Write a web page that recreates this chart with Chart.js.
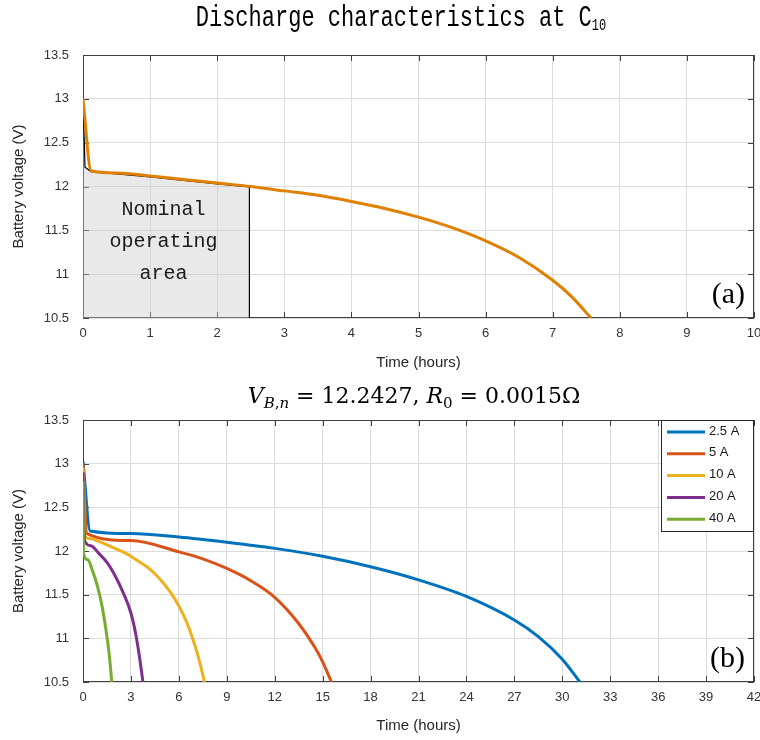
<!DOCTYPE html>
<html>
<head>
<meta charset="utf-8">
<script src="https://cdn.jsdelivr.net/npm/chart.js@4.4.1/dist/chart.umd.min.js"></script>
<style>
  body { margin: 0; background: #fff; }
  #wrap { position: relative; width: 760px; height: 740px; overflow: hidden; background: #fff; }
  canvas { position: absolute; left: 0; }
  #chartA { top: 0; }
  #chartB { top: 375px; }
  .title-a {
    position: absolute; left: 401px; top: 3px;
    transform: translateX(-50%) scaleY(1.3); transform-origin: 50% 0;
    font-family: "Liberation Mono", monospace; font-size: 22px; white-space: nowrap; color: #000;
  }
  .title-a sub { font-size: 12px; vertical-align: -3px; }
  .title-b {
    position: absolute; left: 414px; top: 383px; transform: translateX(-50%);
    font-family: "DejaVu Serif", serif; font-size: 22px; white-space: nowrap; color: #000;
  }
  .title-b sub { font-size: 15px; vertical-align: -5px; }
</style>
</head>
<body>
<div id="wrap">
  <canvas id="chartA" width="760" height="375"></canvas>
  <canvas id="chartB" width="760" height="365"></canvas>
  <div class="title-a">Discharge characteristics at C<sub>10</sub></div>
  <div class="title-b"><i>V</i><sub><i>B</i>,<i>n</i></sub> = 12.2427, <i>R</i><sub>0</sub> = 0.0015Ω</div>
</div>
<script>
// (a) courbe de décharge à C10
const aTime = [0, 0.12, 0.5, 1, 1.5, 2, 2.5, 3, 3.5, 4, 4.5, 5, 5.5, 6, 6.5, 7, 7.3, 7.57];
const aVolt = [13.0, 12.18, 12.155, 12.12, 12.08, 12.04, 12.0, 11.95, 11.9, 11.83, 11.75, 11.65, 11.53, 11.38, 11.19, 10.93, 10.73, 10.5];

// zone nominale (contour noir)
const nominalTime = [0, 0.03, 0.12, 0.5, 1, 1.5, 2, 2.48, 2.48];
const nominalVolt = [13.0, 12.22, 12.17, 12.145, 12.11, 12.07, 12.03, 11.995, 10.5];

// (b) plusieurs courants
const seriesLabels = ["2.5 A", "5 A", "10 A", "20 A", "40 A"];
const seriesColors = ["#0072BD", "#D95319", "#EDB120", "#7E2F8E", "#77AC30"];

const t25 = [0, 0.45, 3, 6, 9, 12, 15, 18, 21, 24, 27, 28.5, 30, 31.1];
const v25 = [13.03, 12.23, 12.2, 12.16, 12.1, 12.03, 11.94, 11.82, 11.67, 11.48, 11.21, 11.02, 10.76, 10.5];

const t5 = [0, 0.25, 3, 6, 7.5, 9, 10.5, 12, 13.5, 14.5, 15, 15.55];
const v5 = [13.0, 12.2, 12.12, 11.99, 11.91, 11.8, 11.66, 11.47, 11.17, 10.9, 10.73, 10.5];

const t10 = [0, 0.15, 0.5, 1, 1.5, 2, 2.5, 3, 3.5, 4, 4.5, 5, 5.5, 6, 6.5, 7, 7.3, 7.6];
const v10 = [12.96, 12.16, 12.14, 12.11, 12.07, 12.03, 11.99, 11.94, 11.88, 11.82, 11.74, 11.64, 11.52, 11.37, 11.18, 10.92, 10.73, 10.5];

const t20 = [0, 0.1, 0.5, 1, 1.5, 2, 2.5, 3, 3.3, 3.55, 3.75];
const v20 = [12.9, 12.12, 12.06, 11.97, 11.87, 11.72, 11.53, 11.29, 11.05, 10.77, 10.5];

const t40 = [0, 0.03, 0.3, 0.6, 0.9, 1.2, 1.45, 1.65, 1.8];
const v40 = [12.8, 11.97, 11.9, 11.77, 11.6, 11.36, 11.08, 10.8, 10.5];

const bTimes = [t25, t5, t10, t20, t40];
const bVolts = [v25, v5, v10, v20, v40];

function toPoints(xs, ys) {
  return xs.map((x, i) => ({ x: x, y: ys[i] }));
}

const tickFont = { family: "Liberation Sans", size: 13 };
const labelFont = { family: "Liberation Sans", size: 15 };
const axisColor = "#404040";
const gridColor = "#dcdcdc";

// cadre + graduations vers l'intérieur, style matlab
const matlabBox = {
  id: "matlabBox",
  beforeDatasetsDraw(chart) {
    const { ctx, chartArea: a, scales } = chart;
    ctx.save();
    ctx.strokeStyle = axisColor;
    ctx.lineWidth = 1;
    ctx.strokeRect(a.left + 0.5, a.top + 0.5, a.right - a.left - 1, a.bottom - a.top - 1);
    ctx.beginPath();
    scales.x.ticks.forEach((t) => {
      const px = Math.round(scales.x.getPixelForValue(t.value)) + 0.5;
      ctx.moveTo(px, a.bottom);
      ctx.lineTo(px, a.bottom - 6);
      ctx.moveTo(px, a.top);
      ctx.lineTo(px, a.top + 6);
    });
    scales.y.ticks.forEach((t) => {
      const py = Math.round(scales.y.getPixelForValue(t.value)) + 0.5;
      ctx.moveTo(a.left, py);
      ctx.lineTo(a.left + 6, py);
      ctx.moveTo(a.right, py);
      ctx.lineTo(a.right - 6, py);
    });
    ctx.stroke();
    ctx.restore();
  },
};

// textes dans le graphe (a)
const textA = {
  id: "textA",
  afterDatasetsDraw(chart) {
    const { ctx, chartArea: a, scales } = chart;
    ctx.save();
    ctx.fillStyle = "#1a1a1a";
    ctx.font = '20px "Liberation Mono"';
    ctx.textAlign = "center";
    ctx.textBaseline = "middle";
    const cx = scales.x.getPixelForValue(1.2);
    ctx.fillText("Nominal", cx, scales.y.getPixelForValue(11.73));
    ctx.fillText("operating", cx, scales.y.getPixelForValue(11.37));
    ctx.fillText("area", cx, scales.y.getPixelForValue(11.01));
    ctx.fillStyle = "#000";
    ctx.font = '30px "Liberation Serif"';
    ctx.textAlign = "right";
    ctx.textBaseline = "alphabetic";
    ctx.fillText("(a)", a.right - 9, a.bottom - 15);
    ctx.restore();
  },
};

// légende + (b)
const legendB = {
  id: "legendB",
  afterDatasetsDraw(chart) {
    const { ctx, chartArea: a } = chart;
    const w = 93, h = 112;
    const x0 = a.right - w, y0 = a.top;
    ctx.save();
    ctx.fillStyle = "#fff";
    ctx.fillRect(x0, y0, w, h);
    ctx.strokeStyle = "#262626";
    ctx.lineWidth = 1;
    ctx.strokeRect(x0 + 0.5, y0 + 0.5, w - 1, h - 1);
    ctx.font = '13px "Liberation Sans"';
    ctx.textBaseline = "middle";
    ctx.textAlign = "left";
    chart.data.datasets.forEach((ds, i) => {
      const y = y0 + 11 + i * 21.8;
      ctx.strokeStyle = ds.borderColor;
      ctx.lineWidth = 3;
      ctx.beginPath();
      ctx.moveTo(x0 + 6, y + 1);
      ctx.lineTo(x0 + 44, y + 1);
      ctx.stroke();
      ctx.fillStyle = "#1a1a1a";
      ctx.fillText(ds.label, x0 + 48, y);
    });
    ctx.fillStyle = "#000";
    ctx.font = '30px "Liberation Serif"';
    ctx.textAlign = "right";
    ctx.textBaseline = "alphabetic";
    ctx.fillText("(b)", a.right - 9, a.bottom - 15);
    ctx.restore();
  },
};

function makeScales(xMax, xStep, xHeight, xTitlePad) {
  return {
    x: {
      type: "linear",
      min: 0,
      max: xMax,
      afterFit: (s) => {
        s.height = xHeight;
        s.paddingLeft = 0;
        s.paddingRight = 0;
      },
      ticks: { stepSize: xStep, font: tickFont, color: "#333", padding: 8, maxRotation: 0 },
      grid: { color: gridColor, drawTicks: false },
      border: { display: false },
      title: { display: true, text: "Time (hours)", font: labelFont, color: "#262626", padding: { top: 0, bottom: xTitlePad } },
    },
    y: {
      type: "linear",
      min: 10.5,
      max: 13.5,
      afterFit: (s) => {
        s.width = 83;
        s.paddingTop = 0;
        s.paddingBottom = 0;
      },
      ticks: {
        stepSize: 0.5,
        font: tickFont,
        color: "#333",
        padding: 14,
        callback: (v) => String(Math.round(v * 10) / 10),
      },
      grid: { color: gridColor, drawTicks: false },
      border: { display: false },
      title: { display: true, text: "Battery voltage (V)", font: labelFont, color: "#262626", padding: { top: 10, bottom: 0 } },
    },
  };
}

const commonOptions = {
  responsive: false,
  animation: false,
  devicePixelRatio: 1,
  plugins: { legend: { display: false }, tooltip: { enabled: false } },
  elements: { point: { radius: 0 } },
};

new Chart(document.getElementById("chartA"), {
  type: "line",
  data: {
    datasets: [
      {
        label: "C10",
        data: toPoints(aTime, aVolt),
        borderColor: "#E17F00",
        borderWidth: 3,
        cubicInterpolationMode: "monotone",
        fill: false,
      },
      {
        label: "Nominal",
        data: toPoints(nominalTime, nominalVolt),
        borderColor: "#000",
        borderWidth: 1.2,
        backgroundColor: "rgba(200,200,200,0.4)",
        tension: 0,
        fill: "start",
      },
    ],
  },
  options: Object.assign({}, commonOptions, {
    layout: { padding: { top: 55, right: 6, left: 0, bottom: 0 } },
    scales: makeScales(10, 1, 57, 3),
  }),
  plugins: [matlabBox, textA],
});

new Chart(document.getElementById("chartB"), {
  type: "line",
  data: {
    datasets: seriesLabels.map((lab, i) => ({
      label: lab,
      data: toPoints(bTimes[i], bVolts[i]),
      borderColor: seriesColors[i],
      borderWidth: 3,
      cubicInterpolationMode: "monotone",
      fill: false,
      order: seriesLabels.length - i,
    })),
  },
  options: Object.assign({}, commonOptions, {
    layout: { padding: { top: 45, right: 6, left: 0, bottom: 0 } },
    scales: makeScales(42, 3, 58, 5),
  }),
  plugins: [matlabBox, legendB],
});
</script>
</body>
</html>
